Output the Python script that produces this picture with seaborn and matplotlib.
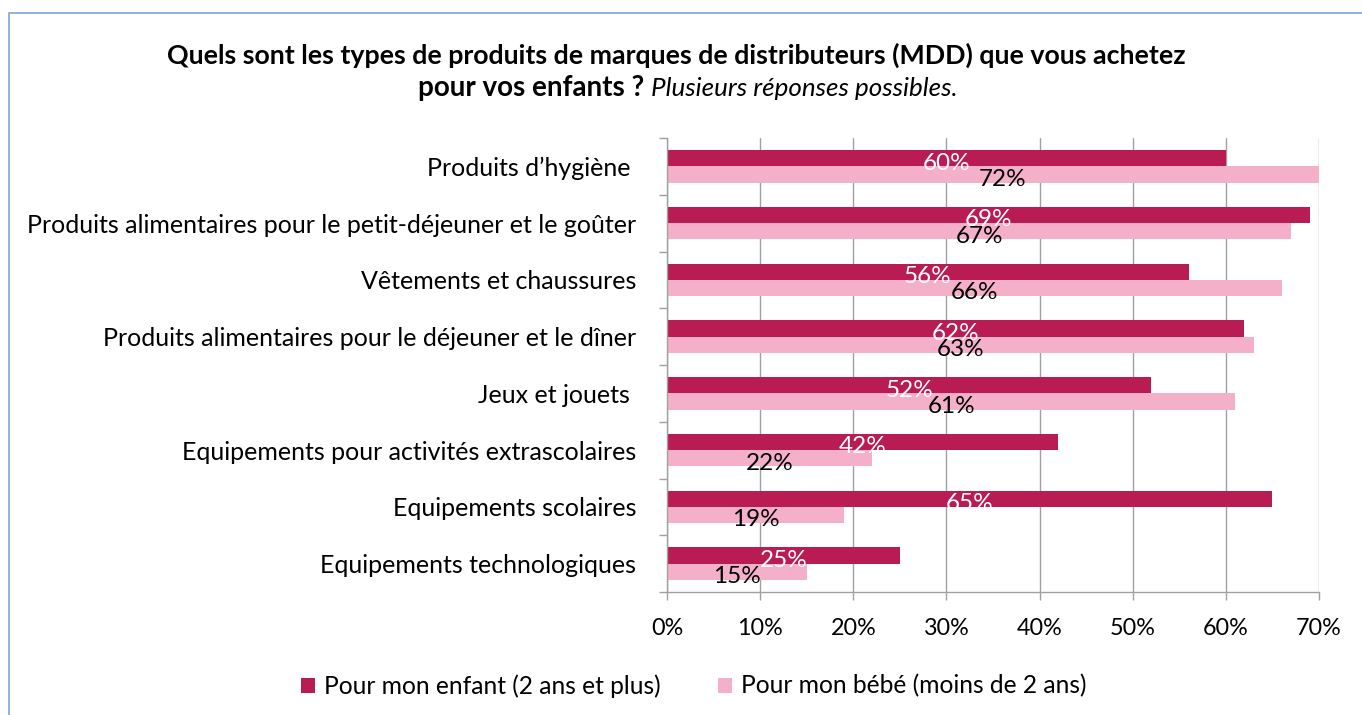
import matplotlib
matplotlib.use("Agg")
import matplotlib.pyplot as plt
from matplotlib.patches import Rectangle
from matplotlib.ticker import FixedLocator
import pandas as pd
import seaborn as sns

# data
categories = [
    "Produits d\u2019hygiène ",
    "Produits alimentaires pour le petit-déjeuner et le goûter",
    "Vêtements et chaussures",
    "Produits alimentaires pour le déjeuner et le dîner",
    "Jeux et jouets ",
    "Equipements pour activités extrascolaires",
    "Equipements scolaires",
    "Equipements technologiques",
]
enfant = [60, 69, 56, 62, 52, 42, 65, 25]
bebe = [72, 67, 66, 63, 61, 22, 19, 15]
series = ["Pour mon enfant (2 ans et plus)", "Pour mon bébé (moins de 2 ans)"]
colors = ["#B91C52", "#F4B0C8"]
x_ticks = [0, 10, 20, 30, 40, 50, 60, 70]

df = pd.DataFrame({
    "categorie": categories * 2,
    "valeur": enfant + bebe,
    "serie": [series[0]] * len(categories) + [series[1]] * len(categories),
})

sns.set_theme(style="white")
plt.rcParams["font.family"] = ["Lato", "DejaVu Sans"]
plt.rcParams["text.color"] = "black"
W, H = 1362, 715
fig = plt.figure(figsize=(W / 100, H / 100), dpi=100)
ax = fig.add_axes([667 / W, 1 - 592 / H, (1319 - 667) / W, (592 - 138) / H])

sns.barplot(data=df, y="categorie", x="valeur", hue="serie", orient="h",
            palette=colors, width=0.57, gap=0, ax=ax, errorbar=None,
            saturation=1, linewidth=0)

ax.set_xlim(0, 70)
ax.set_ylim(len(categories) - 0.5, -0.5)
ax.set_xticks(x_ticks)
ax.set_xticklabels([f"{t}%" for t in x_ticks])
ax.set_xlabel("")
ax.set_ylabel("")
ax.grid(axis="x", color="#A0A0A0", linewidth=1)
ax.set_axisbelow(True)
for s in ["top", "right"]:
    ax.spines[s].set_visible(False)
for s in ["left", "bottom"]:
    ax.spines[s].set_color("#A0A0A0")
    ax.spines[s].set_linewidth(1)

ax.tick_params(axis="x", bottom=True, length=6, width=1, color="#A0A0A0",
               pad=13, labelsize=16.8, labelcolor="black")
ax.tick_params(axis="y", which="major", left=False, length=0, pad=22,
               labelsize=18, labelcolor="black")
ax.yaxis.set_minor_locator(FixedLocator([i - 0.5 for i in range(len(categories) + 1)]))
ax.tick_params(axis="y", which="minor", left=True, length=6, width=1, color="#A0A0A0")

# value labels at bar centres
for cont, tcol in zip(ax.containers, ["white", "black"]):
    for bar in cont:
        w = bar.get_width()
        yc = bar.get_y() + bar.get_height() / 2
        ax.annotate(f"{w:.0f}%", (w / 2, yc), xytext=(0, -3.5),
                    textcoords="offset points", ha="center", va="center",
                    fontsize=17.5, color=tcol, clip_on=False)

sns.move_legend(ax, "center", bbox_to_anchor=(0.041, -0.207), ncol=2,
                frameon=False, title=None, fontsize=17.7, handlelength=0.57,
                handleheight=0.57, handletextpad=0.35, columnspacing=2.36)

# title
fig.text(676 / W, 1 - 55 / H,
         "Quels sont les types de produits de marques de distributeurs (MDD) que vous achetez",
         ha="center", va="center", fontsize=19.3, fontweight="bold")
t_bold = fig.text(0, 1 - 88 / H, "pour vos enfants ? ", ha="left", va="center",
                  fontsize=20, fontweight="bold")
t_it = fig.text(0, 1 - 88 / H, "Plusieurs réponses possibles.", ha="left",
                va="center", fontsize=18.7, fontstyle="italic")
fig.canvas.draw()
r = fig.canvas.get_renderer()
wb = t_bold.get_window_extent(r).width
wi = t_it.get_window_extent(r).width
x0 = 688 - (wb + wi) / 2
t_bold.set_x(x0 / W)
t_it.set_x((x0 + wb) / W)

# chart frame
fig.patches.append(Rectangle((9 / W, -0.1), 1.2, 1 - 13 / H + 0.1,
                             transform=fig.transFigure, fill=False,
                             edgecolor="#7FA6D4", linewidth=1.2))

fig.savefig("out.png", dpi=100)
